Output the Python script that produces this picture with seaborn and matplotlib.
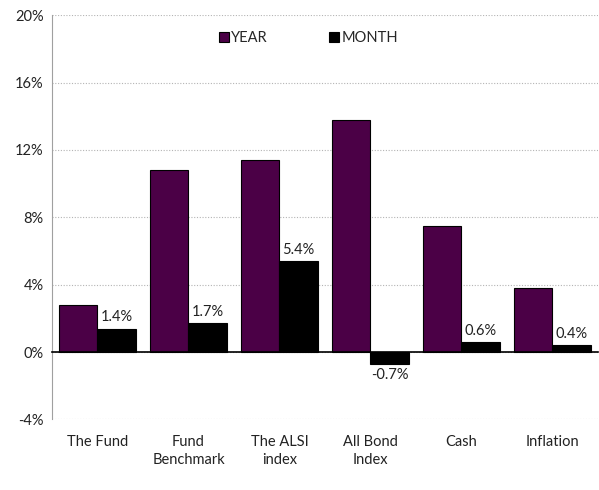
import pandas as pd
import matplotlib
matplotlib.use('Agg')
import matplotlib.pyplot as plt
import seaborn as sns
from matplotlib.ticker import FuncFormatter, FixedLocator

categorias = ['The Fund', 'Fund\nBenchmark', 'The ALSI\nindex', 'All Bond\nIndex', 'Cash', 'Inflation']
year_vals = [2.8, 10.8, 11.4, 13.8, 7.5, 3.8]
month_vals = [1.4, 1.7, 5.4, -0.7, 0.6, 0.4]
series = ['YEAR', 'MONTH']
colores = ['#4B0046', '#000000']

df = pd.DataFrame({
    'categoria': categorias * 2,
    'serie': ['YEAR'] * len(categorias) + ['MONTH'] * len(categorias),
    'valor': year_vals + month_vals,
})

sns.set_style('white')
plt.rcParams['font.family'] = ['Lato', 'DejaVu Sans']

fig = plt.figure(figsize=(5.99, 4.9), dpi=100)
ax = fig.add_axes([0.0868, 0.1439, 0.9112, 0.8251])

sns.barplot(data=df, x='categoria', y='valor', hue='serie', hue_order=series,
            palette=colores, saturation=1, width=0.85, errorbar=None,
            edgecolor='black', linewidth=0.8, ax=ax)

ax.bar_label(ax.containers[1], fmt='%.1f%%', padding=3, fontsize=10.5, color='#222222')

ax.set_ylim(-4, 20)
ax.set_xlim(-0.5, len(categorias) - 0.5)
ax.set_yticks(range(-4, 21, 4))
ax.yaxis.set_major_formatter(FuncFormatter(lambda v, p: f'{v:.0f}%'))
ax.grid(axis='y', which='major', linestyle=(0, (1, 1.5)), color='#b4b4b4', linewidth=0.8)
ax.grid(axis='x', visible=False)
ax.set_axisbelow(True)

ax.spines['top'].set_visible(False)
ax.spines['right'].set_visible(False)
ax.spines['left'].set_color('#a0a0a0')
ax.spines['bottom'].set_position(('data', 0))
ax.spines['bottom'].set_color('black')
ax.spines['bottom'].set_linewidth(1.2)

ax.xaxis.set_minor_locator(FixedLocator([i + 0.5 for i in range(len(categorias) - 1)]))
ax.tick_params(axis='x', which='major', length=0, pad=60, labelsize=10.5, labelcolor='#222222')
ax.tick_params(axis='x', which='minor', length=5, width=1, color='black', direction='out')
ax.tick_params(axis='y', length=0, pad=6, labelsize=10.5, labelcolor='#222222')
for lbl in ax.get_xticklabels():
    lbl.set_linespacing(1.35)

ax.set_xlabel('')
ax.set_ylabel('')

ax.legend(loc='center', bbox_to_anchor=(0.47, 0.943), ncol=2, frameon=False,
          handlelength=0.7, handleheight=0.7, handletextpad=0.15,
          columnspacing=4.2, fontsize=10.5)

fig.savefig('out.png', dpi=100)
